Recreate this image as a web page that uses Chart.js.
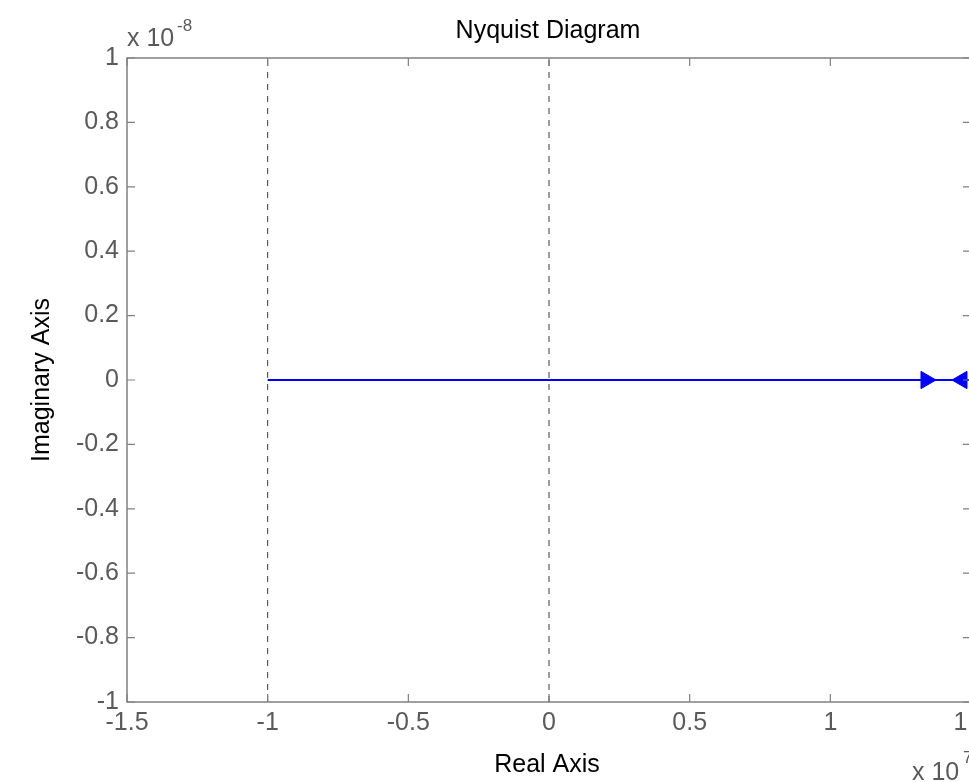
<!DOCTYPE html>
<html>
<head>
<meta charset="utf-8">
<title>Nyquist Diagram</title>
<script src="https://cdn.jsdelivr.net/npm/chart.js@4.4.1/dist/chart.umd.min.js"></script>
<style>
  html, body { margin: 0; padding: 0; background: #fff; overflow: hidden; }
  #wrap { width: 969px; height: 782px; overflow: hidden; position: relative; }
  canvas { position: absolute; left: 0; top: 0; }
</style>
</head>
<body>
<div id="wrap"><canvas id="nyquist" width="990" height="782"></canvas></div>
<script>
// tick values (real axis in units of 1e7, imaginary axis in units of 1e-8)
const xTicks = [-1.5, -1, -0.5, 0, 0.5, 1, 1.5];
const yTicks = [-1, -0.8, -0.6, -0.4, -0.2, 0, 0.2, 0.4, 0.6, 0.8, 1];

// nyquist curve (collapses onto the real axis)
const curveRe = [-1, 1.5];
const curveIm = [0, 0];

// direction arrows on the curve
const arrowRe = [1.34, 1.468];
const arrowIm = [0, 0];
const arrowRot = [90, -90];

// dashed reference lines: the -1 point and the imaginary axis
const refRe = [-1, 0];
const refIm = [-1, 1];

const FONT = '"Liberation Sans", Arial, sans-serif';
const AXIS_COLOR = '#808080';
const TICK_TEXT = '#5a5a5a';

function toPoints(xs, ys) {
  return xs.map((x, i) => ({ x: x, y: ys[i] }));
}

const datasets = [];
refRe.forEach((re) => {
  datasets.push({
    data: toPoints([re, re], refIm),
    showLine: true,
    borderColor: '#3a3a3a',
    borderWidth: 1,
    borderDash: [6, 6],
    pointRadius: 0,
  });
});
datasets.push({
  data: toPoints(curveRe, curveIm),
  showLine: true,
  borderColor: '#0000ff',
  borderWidth: 2,
  pointRadius: 0,
});
datasets.push({
  data: toPoints(arrowRe, arrowIm),
  showLine: false,
  pointStyle: 'triangle',
  pointRadius: 10,
  pointRotation: arrowRot,
  backgroundColor: '#0000ff',
  borderColor: '#0000ff',
  borderWidth: 1,
});

// frame, inward ticks, labels and exponents drawn in matlab style
const matlabAxes = {
  id: 'matlabAxes',
  afterDraw(chart) {
    const ctx = chart.ctx;
    const a = chart.chartArea;
    const xs = chart.scales.x;
    const ys = chart.scales.y;
    ctx.save();
    ctx.strokeStyle = AXIS_COLOR;
    ctx.lineWidth = 1.5;
    ctx.strokeRect(a.left, a.top, a.right - a.left, a.bottom - a.top);

    ctx.lineWidth = 1.2;
    ctx.beginPath();
    xTicks.forEach((v) => {
      const px = xs.getPixelForValue(v);
      ctx.moveTo(px, a.bottom); ctx.lineTo(px, a.bottom - 8);
      ctx.moveTo(px, a.top); ctx.lineTo(px, a.top + 8);
    });
    yTicks.forEach((v) => {
      const py = ys.getPixelForValue(v);
      ctx.moveTo(a.left, py); ctx.lineTo(a.left + 8, py);
      ctx.moveTo(a.right, py); ctx.lineTo(a.right - 8, py);
    });
    ctx.stroke();

    ctx.font = '25px ' + FONT;
    ctx.fillStyle = TICK_TEXT;
    ctx.textAlign = 'center';
    ctx.textBaseline = 'middle';
    xTicks.forEach((v) => {
      ctx.fillText(String(v), xs.getPixelForValue(v), a.bottom + 21);
    });
    ctx.textAlign = 'right';
    yTicks.forEach((v) => {
      ctx.fillText(String(v), a.left - 8, ys.getPixelForValue(v));
    });

    // exponents
    ctx.textAlign = 'left';
    ctx.textBaseline = 'alphabetic';
    ctx.fillText('x 10', a.left, 46);
    ctx.font = '17px ' + FONT;
    ctx.fillText('-8', 177, 31);
    ctx.font = '25px ' + FONT;
    ctx.fillText('x 10', 912, 780);
    ctx.font = '17px ' + FONT;
    ctx.fillText('7', 963, 763);

    // titles
    ctx.fillStyle = '#000';
    ctx.font = '25px ' + FONT;
    ctx.textAlign = 'center';
    ctx.textBaseline = 'middle';
    ctx.fillText('Nyquist Diagram', (a.left + 971) / 2 - 1, 31);
    ctx.fillText('Real Axis', 547, 765);
    ctx.translate(42, (a.top + a.bottom) / 2);
    ctx.rotate(-Math.PI / 2);
    ctx.fillText('Imaginary Axis', 0, 0);
    ctx.restore();
  }
};

new Chart(document.getElementById('nyquist'), {
  type: 'scatter',
  data: { datasets: datasets },
  options: {
    responsive: false,
    animation: false,
    layout: { padding: { left: 127, top: 58, right: 19, bottom: 80 } },
    plugins: { legend: { display: false }, tooltip: { enabled: false } },
    scales: {
      x: { type: 'linear', min: -1.5, max: 1.5, display: false },
      y: { type: 'linear', min: -1, max: 1, display: false },
    },
  },
  plugins: [matlabAxes],
});
</script>
</body>
</html>
